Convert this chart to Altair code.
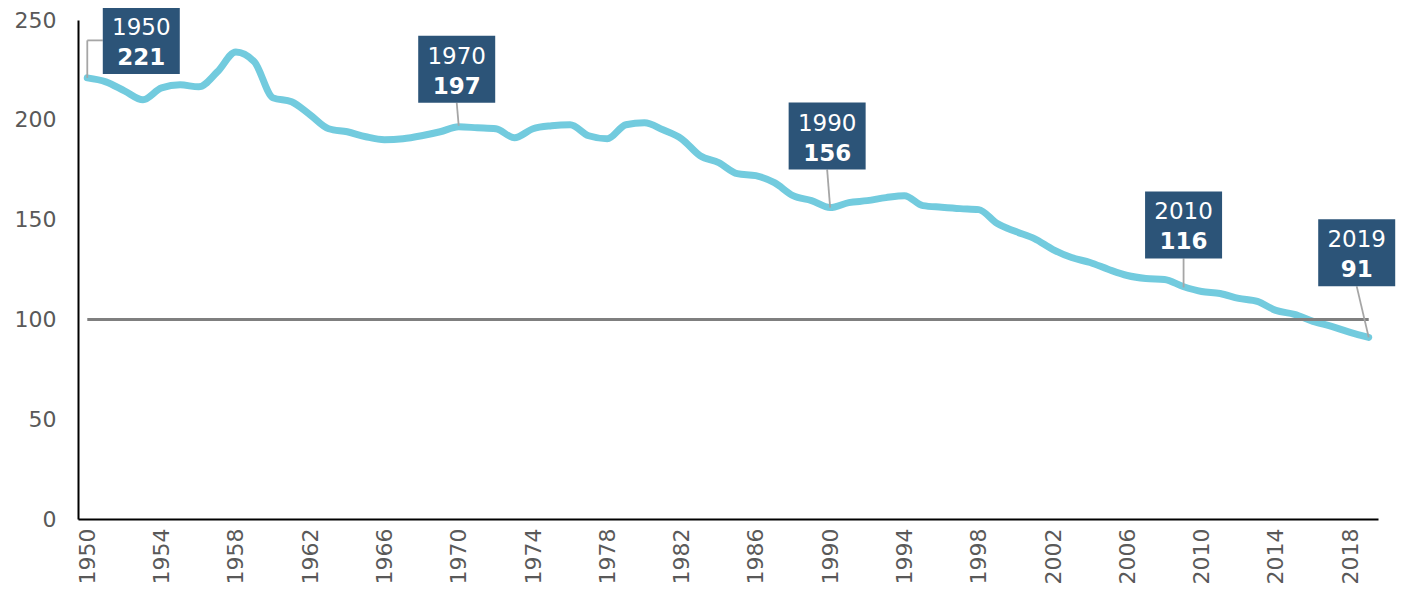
import altair as alt
import pandas as pd

# ---- data ----
years = list(range(1950, 2020))
values = [221, 219, 214.5, 210, 216, 217.5, 216.5, 224, 234, 229,
          211, 209, 202.5, 195.5, 194, 191.5, 190, 190.5, 192, 194,
          196.5, 196, 195.5, 191, 195.5, 197, 197.5, 192, 190.5, 197.5,
          198.5, 195, 190.5, 182, 178.5, 173, 172, 168.5, 162, 159.5,
          156, 158.5, 159.5, 161, 162, 157, 156.2, 155.5, 155, 148,
          144, 140.5, 135, 131, 128.5, 125, 122, 120.5, 120, 116.5,
          114, 113, 110.5, 109, 104.5, 102.5, 99, 96.5, 93.5, 91]
reference_value = 100

ann_years = [1950, 1970, 1990, 2010, 2019]
ann_values = [221, 197, 156, 116, 91]

x_ticks = list(range(1950, 2019, 4))
y_ticks = [0, 50, 100, 150, 200, 250]

# ---- layout (pixels) ----
W, H = 1300, 499
X_DOMAIN = [1949.5, 2019.5]
Y_DOMAIN = [0, 250]
px_year = W / (X_DOMAIN[1] - X_DOMAIN[0])
px_unit = H / (Y_DOMAIN[1] - Y_DOMAIN[0])
BOX_W, BOX_H = 77, 67
ann_dx = [54, -2, -3, -18, -12]       # box centre offset from anchor (px)
ann_lift = [4, 23, 38, 29, 51]        # box bottom above anchor (px)
ann_style = ["elbow", "drop", "drop", "vertical", "drop"]

FONT = "DejaVu Sans"
LINE_COLOR = "#72CBDE"
BOX_COLOR = "#2C5478"

df = pd.DataFrame({"year": years, "value": values})

boxes, segs = [], []
for yr, v, dx, lift, st in zip(ann_years, ann_values, ann_dx, ann_lift, ann_style):
    cx = yr + dx / px_year
    bottom = v + lift / px_unit
    top = bottom + BOX_H / px_unit
    cy = (bottom + top) / 2
    left = cx - BOX_W / 2 / px_year
    right = cx + BOX_W / 2 / px_year
    boxes.append(dict(cx=cx, cy=cy, left=left, right=right, bottom=bottom, top=top,
                      ylabel=str(yr), vlabel=str(v)))
    if st == "elbow":
        segs.append(dict(x=yr, y=v, x2=yr, y2=cy))
        segs.append(dict(x=yr, y=cy, x2=left, y2=cy))
    elif st == "vertical":
        segs.append(dict(x=cx, y=bottom, x2=cx, y2=v))
    else:
        segs.append(dict(x=cx, y=bottom, x2=yr, y2=v))
box_df = pd.DataFrame(boxes)
seg_df = pd.DataFrame(segs)
ref_df = pd.DataFrame({"x": [years[0]], "x2": [years[-1]], "y": [reference_value]})

xs = alt.Scale(domain=X_DOMAIN, nice=False, zero=False)
ys = alt.Scale(domain=Y_DOMAIN, nice=False)

line = alt.Chart(df).mark_line(
    color=LINE_COLOR, strokeWidth=7, interpolate="monotone", strokeCap="round", strokeJoin="round"
).encode(
    x=alt.X("year:Q", scale=xs, title=None,
            axis=alt.Axis(values=x_ticks, format="d", labelAngle=-90, labelPadding=9)),
    y=alt.Y("value:Q", scale=ys, title=None,
            axis=alt.Axis(values=y_ticks, labelPadding=22)),
)

ref = alt.Chart(ref_df).mark_rule(color="#7F7F7F", strokeWidth=3).encode(
    x=alt.X("x:Q", scale=xs, title=None), x2="x2:Q",
    y=alt.Y("y:Q", scale=ys, title=None),
)

leaders = alt.Chart(seg_df).mark_rule(color="#A6A6A6", strokeWidth=1.8).encode(
    x=alt.X("x:Q", scale=xs, title=None), x2="x2:Q",
    y=alt.Y("y:Q", scale=ys, title=None), y2="y2:Q",
)

rects = alt.Chart(box_df).mark_rect(color=BOX_COLOR).encode(
    x=alt.X("left:Q", scale=xs, title=None), x2="right:Q",
    y=alt.Y("bottom:Q", scale=ys, title=None), y2="top:Q",
)

year_txt = alt.Chart(box_df).mark_text(
    color="white", font=FONT, fontSize=23, baseline="alphabetic", align="center", dy=-5.5
).encode(
    x=alt.X("cx:Q", scale=xs, title=None), y=alt.Y("cy:Q", scale=ys, title=None), text="ylabel:N"
)
val_txt = alt.Chart(box_df).mark_text(
    color="white", font=FONT, fontSize=23, fontWeight="bold", baseline="alphabetic",
    align="center", dy=24.5
).encode(
    x=alt.X("cx:Q", scale=xs, title=None), y=alt.Y("cy:Q", scale=ys, title=None), text="vlabel:N"
)

chart = alt.layer(line, ref, leaders, rects, year_txt, val_txt).properties(
    width=W, height=H,
    autosize=alt.AutoSizeParams(type="none"),
    padding={"left": 70, "top": 12, "right": 18, "bottom": 66},
).configure_view(stroke=None).configure_axis(
    domainColor="black", domainWidth=2, ticks=False, grid=False,
    labelColor="#595959", labelFont=FONT, labelFontSize=22,
)

chart.save("out.html", embed_options={"renderer": "svg", "actions": False})
